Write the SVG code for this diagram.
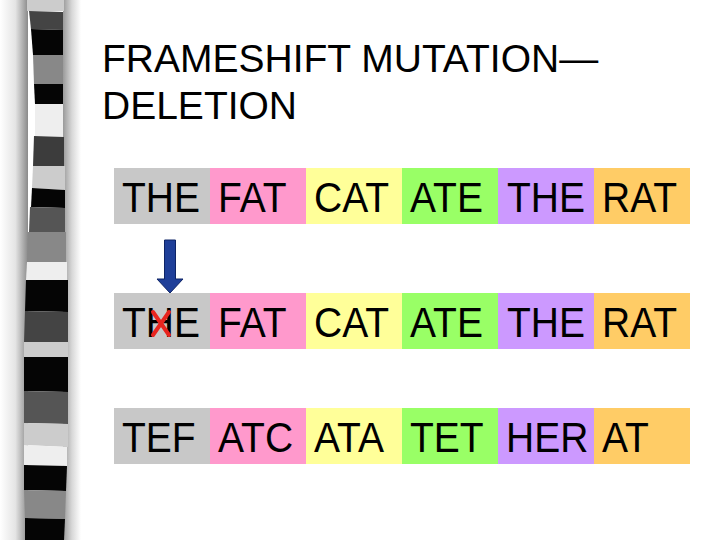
<svg xmlns="http://www.w3.org/2000/svg" width="720" height="540" viewBox="0 0 720 540">
<style>
text{font-family:"Liberation Sans",Arial,sans-serif;fill:#000}
.title{font-size:39px}
.w{font-size:39px}
.g{fill:#c8c8c8}.p{fill:#ff99cc}.y{fill:#ffff99}.gr{fill:#99ff66}.pu{fill:#cc99ff}.o{fill:#ffcc66}
</style>
<defs>
<linearGradient id="shL" x1="0" y1="0" x2="1" y2="0">
<stop offset="0" stop-color="#ffffff"/>
<stop offset="0.55" stop-color="#e4e4e4"/>
<stop offset="1" stop-color="#8a8a8a"/>
</linearGradient>
<linearGradient id="shR" x1="0" y1="0" x2="1" y2="0">
<stop offset="0" stop-color="#9a9a9a"/>
<stop offset="0.5" stop-color="#d8d8d8"/>
<stop offset="1" stop-color="#ffffff"/>
</linearGradient>
</defs>
<rect width="720" height="540" fill="#ffffff"/>
<g id="filmstrip">
<rect x="0" y="0" width="28" height="540" fill="url(#shL)"/>
<rect x="63" y="0" width="18" height="540" fill="url(#shR)"/>
<rect x="27" y="0" width="37" height="11" fill="#cccccc"/>
<polygon points="29,11 63,12 63,30 31,29" fill="#444444"/>
<polygon points="31,29 63,30 63,55 33,55" fill="#050505"/>
<polygon points="33,55 63,55 63,84 34,84" fill="#888888"/>
<polygon points="34,84 63,84 63,104 35,104" fill="#050505"/>
<polygon points="35,104 63,104 63,137 35,136" fill="#eeeeee"/>
<polygon points="34,136 64,137 64,166 33,166" fill="#3c3c3c"/>
<polygon points="33,166 65,166 65,190 32,188" fill="#cccccc"/>
<polygon points="32,188 65,190 65,208 31,207" fill="#050505"/>
<polygon points="30,207 65,208 65,232 29,232" fill="#555555"/>
<polygon points="28,232 66,232 66,262 27,262" fill="#888888"/>
<polygon points="27,262 67,262 67,280 26,280" fill="#eeeeee"/>
<polygon points="26,280 68,280 68,312 25,311" fill="#050505"/>
<polygon points="25,311 68,312 68,342 24,342" fill="#444444"/>
<polygon points="24,342 68,342 68,357 24,357" fill="#cccccc"/>
<polygon points="24,357 68,357 68,392 24,391" fill="#050505"/>
<polygon points="24,391 68,392 68,424 24,423" fill="#555555"/>
<polygon points="24,423 68,424 68,447 24,445" fill="#cccccc"/>
<polygon points="24,445 67,447 67,466 24,465" fill="#eeeeee"/>
<polygon points="24,465 67,466 66,491 24,490" fill="#050505"/>
<polygon points="24,490 66,491 65,519 25,518" fill="#888888"/>
<polygon points="25,518 65,519 64,540 25,540" fill="#050505"/>
</g>
<g id="title">
<text class="title" x="102" y="72">FRAMESHIFT MUTATION—</text>
<text class="title" x="102" y="119">DELETION</text>
</g>
<g id="row1">
<rect class="g" x="114" y="168" width="96" height="56"/>
<rect class="p" x="210" y="168" width="96" height="56"/>
<rect class="y" x="306" y="168" width="96" height="56"/>
<rect class="gr" x="402" y="168" width="96" height="56"/>
<rect class="pu" x="498" y="168" width="96" height="56"/>
<rect class="o" x="594" y="168" width="96" height="56"/>
<g transform="translate(0,212) scale(1,1.08)">
<text class="w" x="122" y="0">THE</text>
<text class="w" x="218" y="0">FAT</text>
<text class="w" x="314" y="0">CAT</text>
<text class="w" x="410" y="0">ATE</text>
<text class="w" x="507" y="0">THE</text>
<text class="w" x="602" y="0">RAT</text>
</g>
</g>
<g id="row2">
<rect class="g" x="114" y="293" width="96" height="56"/>
<rect class="p" x="210" y="293" width="96" height="56"/>
<rect class="y" x="306" y="293" width="96" height="56"/>
<rect class="gr" x="402" y="293" width="96" height="56"/>
<rect class="pu" x="498" y="293" width="96" height="56"/>
<rect class="o" x="594" y="293" width="96" height="56"/>
<g transform="translate(0,337) scale(1,1.08)">
<text class="w" x="122" y="0">THE</text>
<text class="w" x="218" y="0">FAT</text>
<text class="w" x="314" y="0">CAT</text>
<text class="w" x="410" y="0">ATE</text>
<text class="w" x="507" y="0">THE</text>
<text class="w" x="602" y="0">RAT</text>
</g>
</g>
<g id="delete-mark">
<path d="M153,312 L169,335 M169,312 L153,335" stroke="#e8251f" stroke-width="4" fill="none" stroke-linecap="round"/>
</g>
<g id="row3">
<rect class="g" x="114" y="408" width="96" height="56"/>
<rect class="p" x="210" y="408" width="96" height="56"/>
<rect class="y" x="306" y="408" width="96" height="56"/>
<rect class="gr" x="402" y="408" width="96" height="56"/>
<rect class="pu" x="498" y="408" width="96" height="56"/>
<rect class="o" x="594" y="408" width="96" height="56"/>
<g transform="translate(0,452) scale(1,1.08)">
<text class="w" x="122" y="0">TEF</text>
<text class="w" x="218" y="0">ATC</text>
<text class="w" x="314" y="0">ATA</text>
<text class="w" x="410" y="0">TET</text>
<text class="w" x="506" y="0">HER</text>
<text class="w" x="602" y="0">AT</text>
</g>
</g>
<g id="connectors">
<polygon points="164.5,240 175.5,240 175.5,279 183,279 170,293 157,279 164.5,279" fill="#1f3f99" stroke="#0e2466" stroke-width="1"/>
</g>
</svg>
